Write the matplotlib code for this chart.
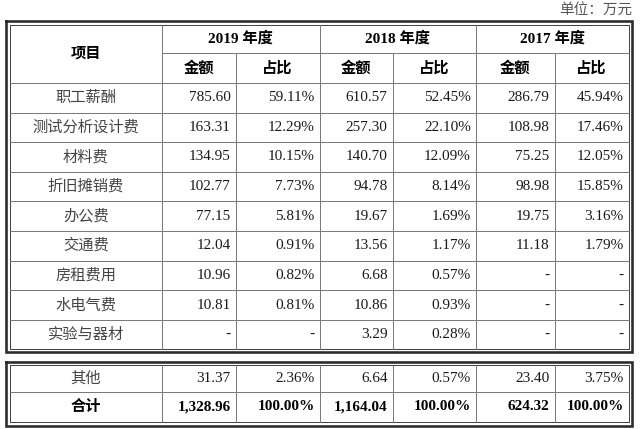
import matplotlib.pyplot as plt

plt.rcParams['font.family'] = ['Liberation Serif', 'Noto Sans CJK SC', 'DejaVu Sans']

years = ['2019 年度', '2018 年度', '2017 年度']
items = ['职工薪酬', '测试分析设计费', '材料费', '折旧摊销费', '办公费',
         '交通费', '房租费用', '水电气费', '实验与器材']
amt_2019 = [785.60, 163.31, 134.95, 102.77, 77.15, 12.04, 10.96, 10.81, None]
pct_2019 = [59.11, 12.29, 10.15, 7.73, 5.81, 0.91, 0.82, 0.81, None]
amt_2018 = [610.57, 257.30, 140.70, 94.78, 19.67, 13.56, 6.68, 10.86, 3.29]
pct_2018 = [52.45, 22.10, 12.09, 8.14, 1.69, 1.17, 0.57, 0.93, 0.28]
amt_2017 = [286.79, 108.98, 75.25, 98.98, 19.75, 11.18, None, None, None]
pct_2017 = [45.94, 17.46, 12.05, 15.85, 3.16, 1.79, None, None, None]

other_amt = [31.37, 6.64, 23.40]
other_pct = [2.36, 0.57, 3.75]
total_amt = [1328.96, 1164.04, 624.32]
total_pct = [100.00, 100.00, 100.00]


def fa(v):
    return '-' if v is None else f'{v:,.2f}'


def fp(v):
    return '-' if v is None else f'{v:.2f}%'


fig = plt.figure(figsize=(6.4, 4.29), dpi=100)
ax = fig.add_axes([0, 0, 1, 1])
ax.set_xlim(0, 640)
ax.set_ylim(429, 0)
ax.axis('off')

px = 0.72  # points per pixel
cols = [9.5, 162, 235.5, 319.5, 392.5, 476, 554.5, 628.5]
grid = '#7a7a7a'
txt = '#1a1a1a'
fs = 11


def box(x0, y0, x1, y1):
    ax.plot([x0, x1, x1, x0, x0], [y0, y0, y1, y1, y0], color='#2b2b2b',
            lw=2.6 * px, solid_joinstyle='miter')


def inner(x0, y0, x1, y1):
    ax.plot([x0, x1, x1, x0, x0], [y0, y0, y1, y1, y0], color='#444444',
            lw=1.0 * px)


ax.text(632, 10, '单位：万元', ha='right', va='center', fontsize=10.5,
        color='#555555')

# upper table
top, h1, h2 = 24.5, 53, 83
row_h = 29.6
bot = h2 + row_h * len(items)
box(6, 21, 632, bot + 3)
inner(cols[0], top, cols[-1], bot)
for x in cols[1:-1]:
    y_start = top if x in (cols[1], cols[3], cols[5]) else h1
    ax.plot([x, x], [y_start, bot], color=grid, lw=1.0 * px)
ax.plot([cols[1], cols[-1]], [h1, h1], color=grid, lw=1.0 * px)
for i in range(len(items)):
    y = h2 + i * row_h
    ax.plot([cols[0], cols[-1]], [y, y], color=grid, lw=1.0 * px)

ax.text((cols[0] + cols[1]) / 2, (top + h2) / 2, '项目', ha='center',
        va='center', fontsize=fs, fontweight='bold', color='black')
for k, yr in enumerate(years):
    xa, xb, xc = cols[1 + 2 * k], cols[2 + 2 * k], cols[3 + 2 * k]
    ax.text((xa + xc) / 2, (top + h1) / 2, yr, ha='center', va='center',
            fontsize=fs, fontweight='bold', color='black')
    ax.text((xa + xb) / 2, (h1 + h2) / 2, '金额', ha='center', va='center',
            fontsize=fs, fontweight='bold', color='black')
    ax.text((xb + xc) / 2, (h1 + h2) / 2, '占比', ha='center', va='center',
            fontsize=fs, fontweight='bold', color='black')

amts = [amt_2019, amt_2018, amt_2017]
pcts = [pct_2019, pct_2018, pct_2017]
for i, name in enumerate(items):
    yc = h2 + i * row_h + row_h / 2
    ax.text((cols[0] + cols[1]) / 2, yc, name, ha='center', va='center',
            fontsize=fs, color='#444444')
    for k in range(3):
        ax.text(cols[2 + 2 * k] - 5, yc, fa(amts[k][i]), ha='right',
                va='center', fontsize=fs, color=txt)
        ax.text(cols[3 + 2 * k] - 5, yc, fp(pcts[k][i]), ha='right',
                va='center', fontsize=fs, color=txt)

# lower table
ltop = 364.5
lmid = ltop + 27.5
lbot = 422
box(6, 362, 632, 425.5)
inner(cols[0], ltop, cols[-1], lbot)
ax.plot([cols[0], cols[-1]], [lmid, lmid], color=grid, lw=1.0 * px)
for x in cols[1:-1]:
    ax.plot([x, x], [ltop, lbot], color=grid, lw=1.0 * px)

yc = (ltop + lmid) / 2
ax.text((cols[0] + cols[1]) / 2, yc, '其他', ha='center', va='center',
        fontsize=fs, color='#444444')
for k in range(3):
    ax.text(cols[2 + 2 * k] - 5, yc, fa(other_amt[k]), ha='right',
            va='center', fontsize=fs, color=txt)
    ax.text(cols[3 + 2 * k] - 5, yc, fp(other_pct[k]), ha='right',
            va='center', fontsize=fs, color=txt)

yc = (lmid + lbot) / 2
ax.text((cols[0] + cols[1]) / 2, yc, '合计', ha='center', va='center',
        fontsize=fs, fontweight='bold', color='black')
for k in range(3):
    ax.text(cols[2 + 2 * k] - 5, yc, fa(total_amt[k]), ha='right',
            va='center', fontsize=fs, fontweight='bold', color='black')
    ax.text(cols[3 + 2 * k] - 5, yc, fp(total_pct[k]), ha='right',
            va='center', fontsize=fs, fontweight='bold', color='black')

fig.savefig('out.png', dpi=100, facecolor='white')
